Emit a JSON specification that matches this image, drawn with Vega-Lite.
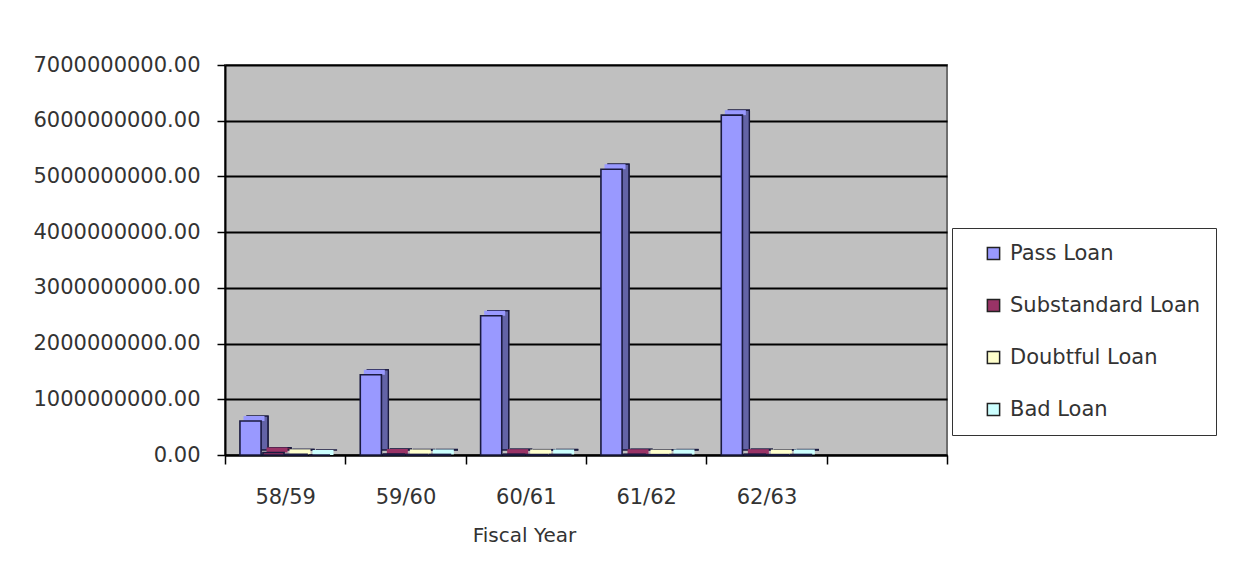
{
  "$schema": "https://vega.github.io/schema/vega-lite/v6.json",
  "width": 722,
  "height": 390,
  "autosize": "none",
  "padding": {"left": 225, "top": 65, "right": 294, "bottom": 119},
  "background": "#ffffff",
  "data": {
    "values": [
      {"year": "58/59", "type": "Pass Loan", "amount": 610000000},
      {"year": "58/59", "type": "Substandard Loan", "amount": 45000000},
      {"year": "58/59", "type": "Doubtful Loan", "amount": 12000000},
      {"year": "58/59", "type": "Bad Loan", "amount": 0},
      {"year": "59/60", "type": "Pass Loan", "amount": 1440000000},
      {"year": "59/60", "type": "Substandard Loan", "amount": 18000000},
      {"year": "59/60", "type": "Doubtful Loan", "amount": 10000000},
      {"year": "59/60", "type": "Bad Loan", "amount": 10000000},
      {"year": "60/61", "type": "Pass Loan", "amount": 2500000000},
      {"year": "60/61", "type": "Substandard Loan", "amount": 15000000},
      {"year": "60/61", "type": "Doubtful Loan", "amount": 8000000},
      {"year": "60/61", "type": "Bad Loan", "amount": 10000000},
      {"year": "61/62", "type": "Pass Loan", "amount": 5130000000},
      {"year": "61/62", "type": "Substandard Loan", "amount": 14000000},
      {"year": "61/62", "type": "Doubtful Loan", "amount": 6000000},
      {"year": "61/62", "type": "Bad Loan", "amount": 9000000},
      {"year": "62/63", "type": "Pass Loan", "amount": 6100000000},
      {"year": "62/63", "type": "Substandard Loan", "amount": 15000000},
      {"year": "62/63", "type": "Doubtful Loan", "amount": 7000000},
      {"year": "62/63", "type": "Bad Loan", "amount": 9000000}
    ]
  },
  "encoding": {
    "x": {
      "field": "year",
      "type": "nominal",
      "sort": null,
      "scale": {"domain": ["58/59", "59/60", "60/61", "61/62", "62/63", " "], "paddingInner": 0, "paddingOuter": 0},
      "axis": {
        "title": "Fiscal Year",
        "labelAngle": 0,
        "tickBand": "extent",
        "tickSize": 9,
        "tickColor": "#000000",
        "tickWidth": 1.5,
        "domainColor": "#000000",
        "domainWidth": 2,
        "labelPadding": 22,
        "labelFont": "DejaVu Sans",
        "labelFontSize": 21,
        "labelColor": "#333333",
        "titleFont": "DejaVu Sans",
        "titleFontSize": 20,
        "titleFontWeight": "normal",
        "titleColor": "#333333",
        "titleX": 299,
        "titleY": 80,
        "titleAnchor": "middle",
        "titleBaseline": "middle",
        "grid": false
      }
    },
    "y": {
      "field": "amount",
      "type": "quantitative",
      "scale": {"domain": [0, 7000000000], "nice": false},
      "axis": {
        "title": null,
        "values": [0, 1000000000, 2000000000, 3000000000, 4000000000, 5000000000, 6000000000, 7000000000],
        "format": ".2f",
        "tickSize": 8,
        "tickColor": "#000000",
        "tickWidth": 1.5,
        "domainColor": "#000000",
        "domainWidth": 2,
        "labelPadding": 17,
        "labelFont": "DejaVu Sans",
        "labelFontSize": 21,
        "labelColor": "#333333",
        "grid": true,
        "gridColor": "#000000",
        "gridWidth": 2
      }
    },
    "color": {
      "field": "type",
      "type": "nominal",
      "sort": ["Pass Loan", "Substandard Loan", "Doubtful Loan", "Bad Loan"],
      "scale": {
        "domain": ["Pass Loan", "Substandard Loan", "Doubtful Loan", "Bad Loan"],
        "range": ["#9999ff", "#993366", "#ffffcc", "#ccffff"]
      },
      "legend": {
        "title": null,
        "orient": "none",
        "legendX": 727,
        "legendY": 163,
        "direction": "vertical",
        "symbolType": "square",
        "symbolSize": 150,
        "symbolStrokeColor": "#222222",
        "symbolStrokeWidth": 1.5,
        "symbolOffset": 16,
        "labelFont": "DejaVu Sans",
        "labelFontSize": 21,
        "labelColor": "#333333",
        "labelOffset": 6,
        "labelLimit": 300,
        "rowPadding": 30,
        "padding": 15,
        "strokeColor": "#333333",
        "fillColor": "#ffffff"
      }
    }
  },
  "layer": [
    {
      "mark": {"type": "bar", "yOffset": -5, "stroke": "#1a1a40", "strokeWidth": 1.2},
      "encoding": {
        "xOffset": {
          "field": "type", "type": "nominal",
          "sort": ["Pass Loan", "Substandard Loan", "Doubtful Loan", "Bad Loan"],
          "scale": {"paddingInner": 0.08, "paddingOuter": 0.65, "range": [7, 127]}
        }
      }
    },
    {
      "mark": {"type": "bar", "yOffset": -5, "fill": "#000000", "fillOpacity": 0.35, "stroke": "#1a1a40", "strokeWidth": 1.2},
      "encoding": {
        "xOffset": {
          "field": "type", "type": "nominal",
          "sort": ["Pass Loan", "Substandard Loan", "Doubtful Loan", "Bad Loan"],
          "scale": {"paddingInner": 0.08, "paddingOuter": 0.65, "range": [7, 127]}
        }
      }
    },
    {
      "mark": {"type": "tick", "orient": "horizontal", "yOffset": -2.5, "thickness": 5, "size": 21, "strokeWidth": 0, "opacity": 1},
      "encoding": {
        "xOffset": {
          "field": "type", "type": "nominal",
          "sort": ["Pass Loan", "Substandard Loan", "Doubtful Loan", "Bad Loan"],
          "scale": {"paddingInner": 0.08, "paddingOuter": 0.65, "range": [3.5, 123.5]}
        }
      }
    },
    {
      "mark": {"type": "bar", "stroke": "#1a1a40", "strokeWidth": 1.6},
      "encoding": {
        "xOffset": {
          "field": "type", "type": "nominal",
          "sort": ["Pass Loan", "Substandard Loan", "Doubtful Loan", "Bad Loan"],
          "scale": {"paddingInner": 0.08, "paddingOuter": 0.65, "range": [0, 120]}
        }
      }
    }
  ],
  "resolve": {"scale": {"xOffset": "independent"}},
  "config": {
    "view": {"fill": "#c0c0c0", "stroke": "#6e6e6e", "strokeWidth": 2},
    "axis": {"labelFont": "DejaVu Sans"}
  }
}
